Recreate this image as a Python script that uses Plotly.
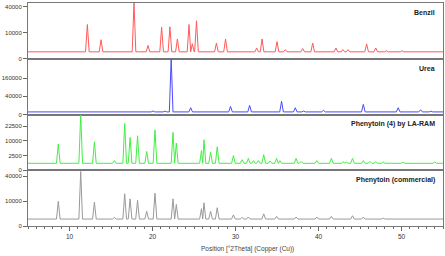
import math
import plotly.graph_objects as go
from plotly.subplots import make_subplots

# ---------------- data (counts) ----------------
benzil_pos = [12.15, 13.8, 17.77, 19.46, 21.1, 22.1, 23.0, 24.4, 24.8, 25.3, 27.7, 28.8,
              32.55, 33.2, 35.0, 36.0, 38.1, 39.3, 42.1, 42.95, 43.55, 45.8, 46.9, 48.2,
              50.06, 52.0]
benzil_cnt = [17100, 5300, 46000, 2600, 14500, 14900, 5700, 17100, 3300, 21000, 3600, 5700,
              1700, 5700, 4300, 1200, 1500, 3600, 1700, 1200, 1200, 3200, 1700, 950,
              950, 790]
benzil_base = 700

urea_pos = [20.06, 21.5, 22.25, 24.6, 29.4, 31.7, 35.55, 37.2, 38.2, 40.6, 41.5, 45.4,
            49.6, 51.0, 52.3, 53.55]
urea_cnt = [1500, 1300, 380000, 5500, 7900, 10000, 20900, 5500, 1400, 2000, 1300, 12300,
            5500, 1300, 2700, 1300]
urea_base = 800

laram_pos = [8.65, 11.35, 13.0, 15.4, 16.65, 17.3, 18.2, 19.3, 20.3, 22.47, 22.87, 25.9,
             26.2, 27.0, 27.8, 29.75, 30.8, 31.55, 32.15, 32.75, 33.4, 34.15, 34.95, 35.35,
             37.3, 37.9, 39.8, 41.55, 43.0, 43.35, 44.1, 45.4, 46.2, 46.9, 47.8, 50.2, 54.0]
laram_cnt = [7950, 36000, 9400, 1080, 25400, 12500, 13800, 4100, 19000, 16600, 8600, 4500,
             10800, 3700, 6400, 2500, 1300, 1650, 1080, 1080, 2800, 1000, 1650, 1080,
             1650, 900, 1080, 1650, 870, 800, 1650, 1080, 900, 850, 800, 750, 800]
laram_base = 560

comm_pos = [8.65, 11.35, 13.0, 15.4, 16.65, 17.3, 18.2, 19.3, 20.3, 22.47, 22.87, 25.9,
            26.2, 27.0, 27.8, 29.75, 30.8, 31.55, 33.4, 34.95, 37.3, 39.8, 41.55, 44.1,
            45.4, 47.8, 54.0]
comm_cnt = [9800, 48000, 9200, 1200, 16700, 11900, 10600, 3500, 17400, 11900, 7500, 4800,
            8700, 3500, 5400, 2000, 1200, 1300, 2400, 1500, 1300, 1300, 1500, 1700,
            1300, 1000, 900]
comm_base = 780

labels = ["Benzil", "Urea", "Phenytoin (4) by LA-RAM", "Phenytoin (commercial)"]
ytick_labels = [[0, 10000, 40000], [0, 40000, 160000], [0, 2500, 10000, 22500], [0, 10000, 40000]]
x_min, x_max = 5, 55

# ---------------- styles ----------------
colors = ["#ff5a5a", "#4a4aff", "#44ee44", "#999999"]
y_tops = [213, 611, 190, 224]   # sqrt-scale top of each panel
HW = 0.22                        # drawn half-width of a peak


def profile(pos, cnt, base):
    xs, ys = [x_min], [base]
    n = len(pos)
    for i in range(n):
        left = pos[i] - HW
        right = pos[i] + HW
        if i > 0:
            left = max(left, (pos[i - 1] + pos[i]) / 2)
        if i < n - 1:
            right = min(right, (pos[i] + pos[i + 1]) / 2)
        xs += [left, pos[i], right]
        ys += [base, cnt[i], base]
    xs.append(x_max)
    ys.append(base)
    return xs, ys


series = [(benzil_pos, benzil_cnt, benzil_base), (urea_pos, urea_cnt, urea_base),
          (laram_pos, laram_cnt, laram_base), (comm_pos, comm_cnt, comm_base)]

fig = make_subplots(rows=4, cols=1, shared_xaxes=True, vertical_spacing=0)

for i, (p, c, b) in enumerate(series):
    xs, ys = profile(p, c, b)
    fig.add_trace(go.Scatter(x=xs, y=[math.sqrt(v) for v in ys], mode="lines",
                             line=dict(color=colors[i], width=1), showlegend=False,
                             hoverinfo="skip"), row=i + 1, col=1)
    fig.update_yaxes(range=[0, y_tops[i]],
                     tickvals=[math.sqrt(v) for v in ytick_labels[i]],
                     ticktext=[str(v) for v in ytick_labels[i]],
                     ticks="outside", ticklen=4, tickcolor="#666", tickwidth=1,
                     showline=True, mirror=True, linecolor="#777", linewidth=1,
                     showgrid=False, zeroline=False,
                     tickfont=dict(family="Arial", size=6, color="#333"),
                     row=i + 1, col=1)
    fig.update_xaxes(range=[x_min, x_max], showline=True, mirror=True, linecolor="#777",
                     linewidth=1, showgrid=False, zeroline=False, row=i + 1, col=1)
    fig.add_annotation(text="<b>" + labels[i] + "</b>", xref="x domain", yref="y domain",
                       x=0.985, y=0.93, xanchor="right", yanchor="top", showarrow=False,
                       font=dict(family="Arial", size=7, color="#222"),
                       row=i + 1, col=1)

for r in range(1, 4):
    fig.update_xaxes(showticklabels=False, ticks="", row=r, col=1)

fig.update_xaxes(dtick=10, tick0=0, ticks="outside", ticklen=4, tickcolor="#666",
                 tickfont=dict(family="Arial", size=6.5, color="#333"),
                 minor=dict(dtick=1, ticks="outside", ticklen=2, tickcolor="#666"),
                 row=4, col=1)

fig.add_annotation(text="Position [°2Theta] (Copper (Cu))", xref="paper", yref="paper",
                   x=0.53, y=-0.075, xanchor="center", yanchor="top", showarrow=False,
                   font=dict(family="Arial", size=6.5, color="#444"))

fig.update_layout(width=445, height=256, margin=dict(l=28, r=2, t=3, b=30),
                  plot_bgcolor="white", paper_bgcolor="white")

fig.write_html("out.html", config={"displayModeBar": False},
               post_script="document.body.style.margin='0';document.body.style.padding='0';")
